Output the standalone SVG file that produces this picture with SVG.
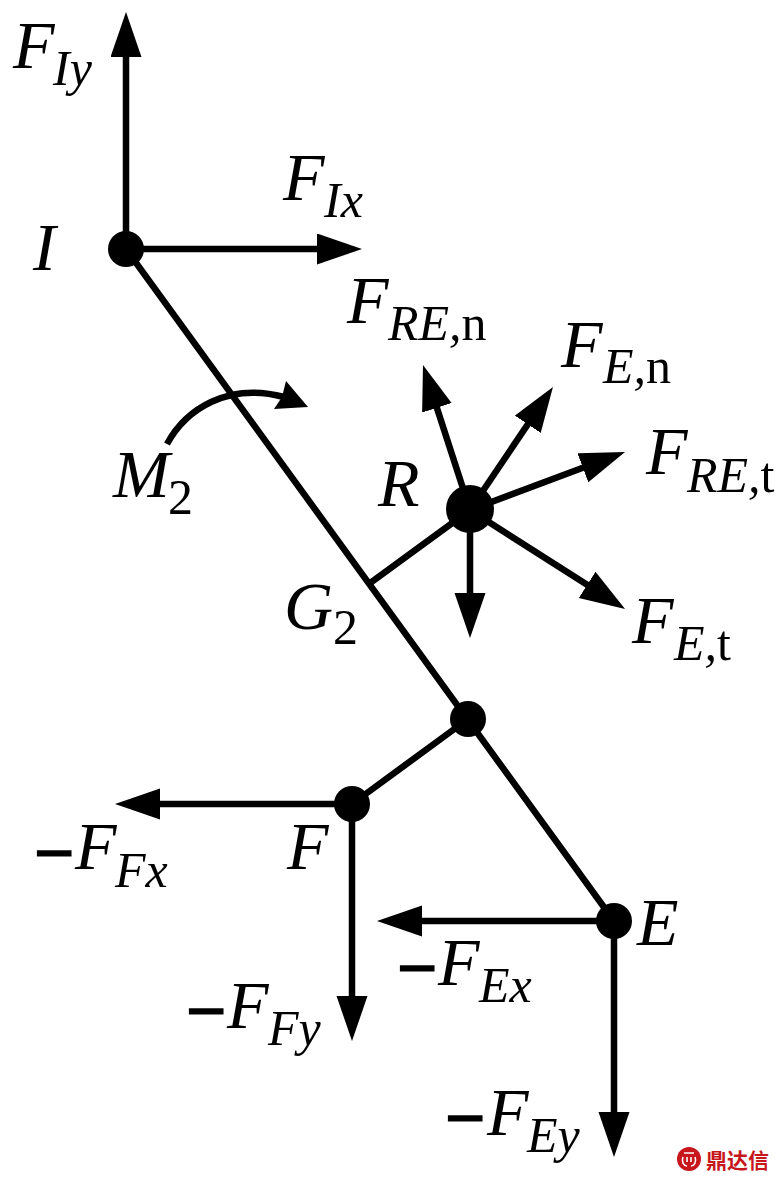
<svg xmlns="http://www.w3.org/2000/svg" width="779" height="1182" viewBox="0 0 779 1182">
<defs><marker id="a" markerUnits="userSpaceOnUse" markerWidth="46" markerHeight="32" refX="20" refY="15.5" orient="auto"><path d="M0 0L45 15.5L0 31Z" fill="#000"/></marker></defs>
<style>
.l{stroke:#000;stroke-width:6.5;fill:none}
.a{marker-end:url(#a)}
text{font-family:"Liberation Serif",serif;font-size:68px;font-style:italic;fill:#000}
.s{font-size:50px}
.u{font-style:normal}
.m{font-style:normal;stroke:#000;stroke-width:3}
.k{font-family:"Noto Sans CJK SC",sans-serif;font-size:21px;font-style:normal;font-weight:700;fill:#c8161d}
</style>
<rect width="779" height="1182" fill="#fff"/>
<g id="connectors">
<path class="l" d="M126 249L614 921M370 583L470 510M468 719L352 804"/>
<path class="l a" d="M126 249V37"/><path class="l a" d="M126 249H337"/>
<path class="l a" d="M470 510L430.7 388.8"/><path class="l a" d="M470 510L539 407.7"/>
<path class="l a" d="M470 510L601.6 460.8"/><path class="l a" d="M470 510L604 595.6"/>
<path class="l a" d="M470 510V613"/>
<path class="l a" d="M352 804H140"/><path class="l a" d="M352 804V1016"/>
<path class="l a" d="M614 921H402"/><path class="l a" d="M614 921V1132"/>
<path class="l" d="M167 444C186 409 228 382 284 397"/>
<path d="M308 407L286 381L282 397L274 409Z" fill="#000"/>
</g>
<g id="node-I"><circle cx="126" cy="249" r="18"/><text x="33" y="270">I</text></g>
<g id="node-R"><circle cx="470" cy="509" r="24"/><text x="378" y="506">R</text></g>
<g id="node-J"><circle cx="468" cy="719" r="18"/></g>
<g id="node-F"><circle cx="352" cy="804" r="18"/><text x="287" y="869">F</text></g>
<g id="node-E"><circle cx="614" cy="921" r="18"/><text x="637" y="945">E</text></g>
<g id="labels">
<text x="13" y="68">F</text><text class="s" x="53" y="85">Iy</text>
<text x="283" y="200">F</text><text class="s" x="324" y="217">Ix</text>
<text x="347" y="323">F</text><text class="s" x="388" y="340">RE,<tspan class="u">n</tspan></text>
<text x="561" y="367">F</text><text class="s" x="603" y="383">E,<tspan class="u">n</tspan></text>
<text x="646" y="474">F</text><text class="s" x="687" y="492">RE,<tspan class="u">t</tspan></text>
<text x="632" y="643">F</text><text class="s" x="674" y="660">E,<tspan class="u">t</tspan></text>
<text x="113" y="497">M</text><text class="s u" x="168" y="514">2</text>
<text x="284" y="629">G</text><text class="s u" x="333" y="644">2</text>
<text class="m" x="35" y="876">−</text><text x="75" y="869">F</text><text class="s" x="115" y="887">Fx</text>
<text class="m" x="187" y="1034">−</text><text x="227" y="1028">F</text><text class="s" x="268" y="1045">Fy</text>
<text class="m" x="398" y="991">−</text><text x="438" y="985">F</text><text class="s" x="479" y="1002">Ex</text>
<text class="m" x="446" y="1141">−</text><text x="487" y="1135">F</text><text class="s" x="527" y="1152">Ey</text>
</g>
<g id="logo">
<circle cx="689" cy="1159" r="12" fill="#c8161d"/>
<path d="M684 1153H694M683 1157C681 1162 684 1166 687 1166M695 1157C697 1162 694 1166 691 1166M687 1157V1162M691 1157V1162" stroke="#fff" stroke-width="1.6" fill="none"/>
<text class="k" x="706" y="1168">鼎达信</text>
</g>
</svg>
